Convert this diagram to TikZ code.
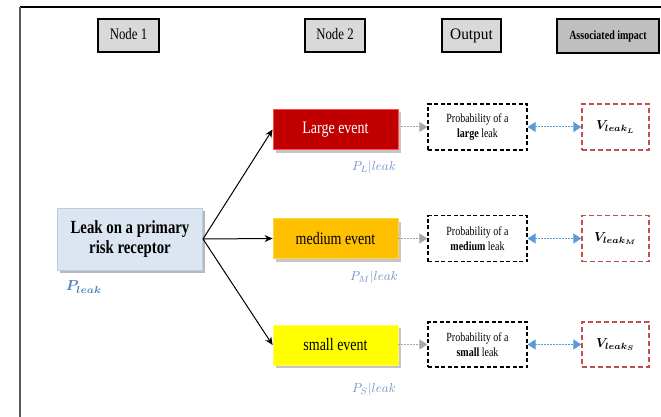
\documentclass[tikz,border=0pt]{standalone}
\usepackage{fontspec}
\setmainfont{Liberation Serif}[FakeStretch=0.8]
\usepackage{bm}
\usetikzlibrary{arrows.meta,shadows}
\definecolor{hdrgray}{HTML}{D9D9D9}
\definecolor{hdrdark}{HTML}{BFBFBF}
\definecolor{leakfill}{HTML}{DCE6F2}
\definecolor{leakline}{HTML}{B9CDE5}
\definecolor{plabel}{HTML}{6F94C6}
\definecolor{pleak}{HTML}{4F81BD}
\definecolor{bigred}{HTML}{C00000}
\definecolor{midorange}{HTML}{FFC000}
\definecolor{smallyellow}{HTML}{FFFF00}
\definecolor{vred}{HTML}{C0504D}
\definecolor{dblue}{HTML}{5B9BD5}
\definecolor{ggray}{HTML}{A6A6A6}
\tikzset{
  hdrbox/.style={draw=black, line width=1.2pt, fill=hdrgray, minimum height=33pt, inner sep=0pt,
     text height=10.5pt, text depth=3pt,
     drop shadow={shadow xshift=1pt, shadow yshift=-1pt, fill=gray!60, opacity=1}},
  eventbox/.style={minimum width=125pt, minimum height=40pt, inner sep=0pt, line width=0.8pt,
     font=\fontsize{17.5}{20}\selectfont,
     drop shadow={shadow xshift=2.5pt, shadow yshift=-3pt, fill=gray!45, opacity=1}},
  probbox/.style={draw=black, dash pattern=on 4pt off 2.5pt, line width=1.3pt, fill=white,
     minimum width=99pt, minimum height=46pt, inner sep=0pt, align=center,
     font=\fontsize{12.5}{14.5}\selectfont},
  vbox/.style={draw=vred, dash pattern=on 5pt off 3pt, line width=1.3pt, fill=white,
     minimum width=67pt, minimum height=46pt, inner sep=0pt},
  plab/.style={text=plabel, inner sep=0pt, scale=1.3},
  blackarrow/.style={draw=black, line width=1pt, -{Stealth[length=8pt,width=7pt]}},
  grayarrow/.style={draw=ggray, line width=1pt, dash pattern=on 1.5pt off 1.5pt, -{Triangle[length=8pt,width=10pt]}},
  bluearrow/.style={draw=dblue, line width=1pt, dash pattern=on 1.5pt off 1.5pt, {Triangle[length=8pt,width=10pt]}-{Triangle[length=8pt,width=10pt]}}
}
\begin{document}
\begin{tikzpicture}[x=1pt,y=-1pt]
\useasboundingbox (0,0) rectangle (661,417);
% frame
\draw[line width=2pt, black] (20,7) -- (661,7);
\draw[line width=2pt, black!65] (20,7) -- (20,417);
% headers
\node[hdrbox, minimum width=61pt, font=\fontsize{16}{18}\selectfont] (h1) at (128.5,35.5) {Node 1};
\node[hdrbox, minimum width=60pt, font=\fontsize{16}{18}\selectfont] (h2) at (335,35.5) {Node 2};
\node[hdrbox, minimum width=59pt, font=\fontsize{16}{18}\selectfont] (h3) at (471.5,35.5) {\scalebox{1.2}[1]{Output}};
\node[hdrbox, fill=hdrdark, minimum width=102pt, minimum height=34pt, text height=9pt, text depth=2.5pt,
      font=\bfseries\fontsize{12.5}{14}\selectfont] (h4) at (608,36) {Associated impact};
% root
\node[draw=leakline, line width=1pt, fill=leakfill, minimum width=145pt, minimum height=62pt, inner sep=0pt,
      align=center, font=\bfseries\fontsize{18.5}{20}\selectfont,
      drop shadow={shadow xshift=2.5pt, shadow yshift=-3pt, fill=gray!55, opacity=1}] (leak) at (130,239)
      {Leak on a primary\\risk receptor};
\node[text=pleak, inner sep=0pt, scale=1.45] (pl0) at (84,287) {$\bm{P_{leak}}$};
% events
\node[eventbox, draw=red!70!white, fill=bigred, text=white] (ev1) at (335.5,129.5) {Large event};
\node[eventbox, draw=midorange!70!white, fill=midorange] (ev2) at (335.5,238.5) {medium event};
\node[eventbox, draw=yellow!60!white, fill=smallyellow] (ev3) at (335.5,345) {small event};
% conditional labels
\node[plab] (pc1) at (374,167) {$P_L|leak$};
\node[plab] (pc2) at (374,277) {$P_M|leak$};
\node[plab] (pc3) at (374,389) {$P_S|leak$};
% probability boxes
\node[probbox] (pr1) at (477.5,127) {Probability of a\\\textbf{large} leak};
\node[probbox] (pr2) at (477.5,238.5) {Probability of a\\\textbf{medium} leak};
\node[probbox, minimum height=45pt] (pr3) at (477.5,344.5) {Probability of a\\\textbf{small} leak};
% impact boxes
\node[vbox] (v1) at (615.5,127) {\scalebox{1.3}{$\bm{V_{leak_L}}$}};
\node[vbox] (v2) at (615.5,238.5) {\scalebox{1.3}{$\bm{V_{leak_M}}$}};
\node[vbox, minimum height=45pt] (v3) at (615.5,344.5) {\scalebox{1.3}{$\bm{V_{leak_S}}$}};
% connectors
\draw[blackarrow] (leak.east) -- (ev1.west);
\draw[blackarrow] (leak.east) -- (ev2.west);
\draw[blackarrow] (leak.east) -- (ev3.west);
\draw[grayarrow] (ev1.east |- pr1.west) -- (pr1.west);
\draw[grayarrow] (ev2.east |- pr2.west) -- (pr2.west);
\draw[grayarrow] (ev3.east |- pr3.west) -- (pr3.west);
\draw[bluearrow] (pr1.east) -- (v1.west);
\draw[bluearrow] (pr2.east) -- (v2.west);
\draw[bluearrow] (pr3.east) -- (v3.west);
\end{tikzpicture}
\end{document}
